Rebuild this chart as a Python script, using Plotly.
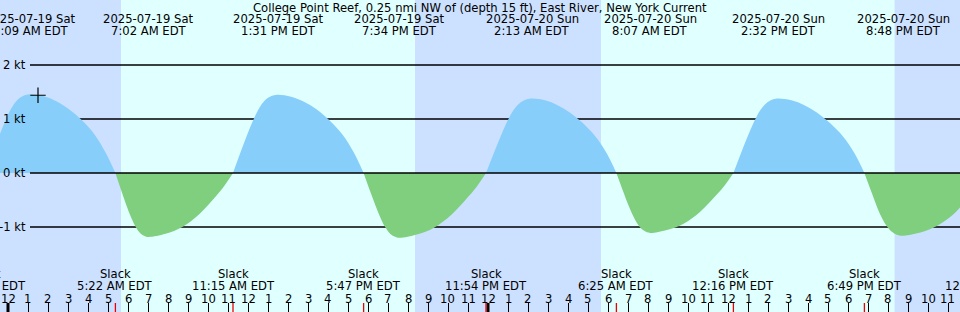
import plotly.graph_objects as go

# ---------------- data (hours after midnight 2025-07-19 EDT) ----------------
times = [-1.13, -0.79, -0.446, -0.104, 0.238, 0.58, 0.876, 1.15,
         1.783, 2.416, 3.049, 3.682, 4.315, 4.864,
         5.37, 5.702, 6.034, 6.366, 6.615, 6.831, 7.03,
         7.874, 8.718, 9.562, 10.406, 10.828,
         11.25, 11.59, 11.93, 12.27, 12.61, 12.95, 13.25, 13.52,
         14.16, 14.80, 15.44, 16.08, 16.72, 17.27,
         17.78, 18.14, 18.50, 18.85, 19.12, 19.36, 19.57,
         20.44, 21.30, 22.17, 23.03, 23.47,
         23.9, 24.25, 24.60, 24.94, 25.29, 25.64, 25.94, 26.22,
         26.85, 27.48, 28.11, 28.74, 29.37, 29.92,
         30.42, 30.76, 31.10, 31.44, 31.70, 31.92, 32.12,
         32.95, 33.78, 34.61, 35.44, 35.86,
         36.27, 36.61, 36.95, 37.29, 37.63, 37.97, 38.26, 38.53,
         39.17, 39.82, 40.46, 41.10, 41.75, 42.31,
         42.82, 43.22, 43.61, 44.01, 44.31, 44.56, 44.8,
         45.62, 46.44, 47.26, 48.08, 48.49, 48.9]
speeds = [0, 0.35, 0.686, 0.993, 1.241, 1.387, 1.445, 1.46,
          1.42, 1.33, 1.18, 0.98, 0.72, 0.39,
          0, -0.367, -0.711, -0.984, -1.114, -1.167, -1.185,
          -1.126, -1.001, -0.764, -0.427, -0.231,
          0, 0.348, 0.682, 0.986, 1.233, 1.378, 1.436, 1.45,
          1.414, 1.32, 1.175, 0.972, 0.711, 0.392,
          0, -0.372, -0.72, -0.996, -1.128, -1.182, -1.2,
          -1.14, -1.014, -0.774, -0.432, -0.234,
          0, 0.331, 0.649, 0.938, 1.173, 1.311, 1.366, 1.38,
          1.346, 1.256, 1.118, 0.925, 0.676, 0.373,
          0, -0.344, -0.666, -0.921, -1.043, -1.093, -1.11,
          -1.055, -0.938, -0.716, -0.40, -0.216,
          0, 0.331, 0.649, 0.938, 1.173, 1.311, 1.366, 1.38,
          1.346, 1.256, 1.118, 0.925, 0.676, 0.373,
          0, -0.40, -0.77, -1.02, -1.12, -1.155, -1.16,
          -1.102, -0.98, -0.77, -0.418, -0.226, 0]

slack_times = [-1.13, 5.37, 11.25, 17.78, 23.9, 30.42, 36.27, 42.82, 48.9]
slack_labels = ["10:52 PM EDT", "5:22 AM EDT", "11:15 AM EDT", "5:47 PM EDT",
                "11:54 PM EDT", "6:25 AM EDT", "12:16 PM EDT", "6:49 PM EDT",
                "12:54 AM EDT"]

peak_times = [1.15, 7.03, 13.52, 19.57, 26.22, 32.12, 38.53, 44.8]
peak_dates = ["2025-07-19 Sat"] * 4 + ["2025-07-20 Sun"] * 4
peak_labels = ["1:09 AM EDT", "7:02 AM EDT", "1:31 PM EDT", "7:34 PM EDT",
               "2:13 AM EDT", "8:07 AM EDT", "2:32 PM EDT", "8:48 PM EDT"]

sunrise_times = [5.65, 29.65]
sunset_times = [20.35, 44.33]

now_time = 1.5
now_speed = 1.44

hour_ticks = list(range(0, 48))
hour_labels = [str(h % 12 if h % 12 else 12) for h in hour_ticks]
midnights = [0, 24]

speed_ticks = [2, 1, 0, -1]
speed_labels = ["2 kt", "1 kt", "0 kt", "-1 kt"]

title = "College Point Reef, 0.25 nmi NW of (depth 15 ft), East River, New York Current"

# ---------------- layout constants ----------------
W, H = 960, 312
XR = [-0.4, 47.6]
YR = [-2.574, 3.204]
FONT = "DejaVu Sans"
FS = 11.6
NIGHT = "#cce0ff"
DAY = "#e0ffff"
FLOOD = "#87cefa"
EBB = "#7fcf7f"


def xpaper(h):
    return (h - XR[0]) / (XR[1] - XR[0])


def ypaper(py):
    return 1 - py / H


fig = go.Figure()

# split the curve into half cycles between slacks
segments = []
cur = []
for t, v in zip(times, speeds):
    cur.append((t, v))
    if v == 0 and len(cur) > 1:
        segments.append(cur)
        cur = [(t, v)]
for seg in segments:
    xs = [p[0] for p in seg]
    ys = [p[1] for p in seg]
    positive = sum(ys) > 0
    fig.add_trace(go.Scatter(
        x=xs, y=ys, mode="lines", line=dict(width=0, shape="spline", smoothing=1.0),
        fill="tozeroy", fillcolor=FLOOD if positive else EBB,
        hoverinfo="skip", showlegend=False))

# current-time marker
fig.add_trace(go.Scatter(
    x=[now_time], y=[now_speed], mode="markers",
    marker=dict(symbol="cross-thin", size=11, line=dict(width=1.2, color="black")),
    hoverinfo="skip", showlegend=False))

shapes = []
# background bands (night / day)
shapes.append(dict(type="rect", xref="x", yref="paper", x0=XR[0] - 2, x1=XR[1] + 2,
                   y0=0, y1=1, fillcolor=DAY, line_width=0, layer="below"))
night_starts = [XR[0] - 2] + sunset_times
night_ends = sunrise_times + [XR[1] + 2]
for a, b in zip(night_starts, night_ends):
    shapes.append(dict(type="rect", xref="x", yref="paper", x0=a, x1=b, y0=0, y1=1,
                       fillcolor=NIGHT, line_width=0, layer="below"))
# speed grid lines
for v in speed_ticks:
    shapes.append(dict(type="line", xref="paper", yref="y", x0=30 / W, x1=1,
                       y0=v, y1=v, line=dict(color="black", width=1.3),
                       layer="above" if v == 0 else "below"))
# midnight bold ticks
for m in midnights:
    shapes.append(dict(type="line", xref="x", yref="paper", x0=m, x1=m,
                       y0=0, y1=9 / H, line=dict(color="black", width=3)))
# slack red ticks
for s in slack_times:
    shapes.append(dict(type="line", xref="x", yref="paper", x0=s, x1=s,
                       y0=0, y1=9 / H, line=dict(color="#ee0000", width=1.3)))

ann = []
f12 = dict(family=FONT, size=FS, color="black")
ann.append(dict(text=title, xref="paper", yref="paper", x=0.5, y=ypaper(7.5),
                xanchor="center", yanchor="middle", showarrow=False, font=f12))
for t, d, l in zip(peak_times, peak_dates, peak_labels):
    ann.append(dict(text=d, xref="paper", yref="paper", x=xpaper(t), y=ypaper(19),
                    xanchor="center", yanchor="middle", showarrow=False, font=f12))
    ann.append(dict(text=l, xref="paper", yref="paper", x=xpaper(t), y=ypaper(31),
                    xanchor="center", yanchor="middle", showarrow=False, font=f12))
for t, l in zip(slack_times, slack_labels):
    ann.append(dict(text="Slack", xref="paper", yref="paper", x=xpaper(t), y=ypaper(273.5),
                    xanchor="center", yanchor="middle", showarrow=False, font=f12))
    ann.append(dict(text=l, xref="paper", yref="paper", x=xpaper(t), y=ypaper(285.5),
                    xanchor="center", yanchor="middle", showarrow=False, font=f12))
for h, l in zip(hour_ticks, hour_labels):
    ann.append(dict(text=l, xref="paper", yref="paper", x=xpaper(h), y=ypaper(298.5),
                    xanchor="center", yanchor="middle", showarrow=False, font=f12))
for v, l in zip(speed_ticks, speed_labels):
    ann.append(dict(text=l, xref="paper", yref="y", x=28 / W, y=v,
                    xanchor="right", yanchor="middle", showarrow=False, font=f12))

fig.update_layout(
    width=W, height=H, margin=dict(l=0, r=0, t=0, b=0),
    paper_bgcolor=DAY, plot_bgcolor=DAY,
    shapes=shapes, annotations=ann, showlegend=False,
    xaxis=dict(range=XR, showgrid=False, zeroline=False, showline=False,
               showticklabels=False, ticks="inside", ticklen=9, tickwidth=1,
               tickcolor="black", tickvals=hour_ticks, fixedrange=True),
    yaxis=dict(range=YR, showgrid=False, zeroline=False, showline=False,
               showticklabels=False, ticks="", fixedrange=True),
)

fig.write_html("out.html", config={"displayModeBar": False})
